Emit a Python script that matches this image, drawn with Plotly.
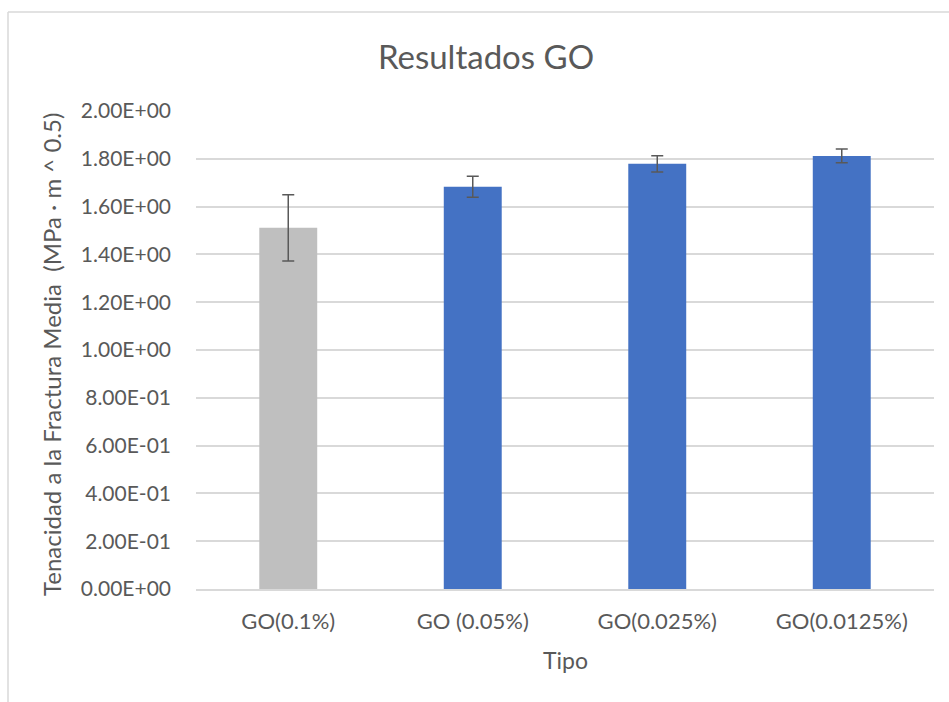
import plotly.graph_objects as go

categories = ["GO(0.1%)", "GO (0.05%)", "GO(0.025%)", "GO(0.0125%)"]
values = [1.511, 1.683, 1.779, 1.812]
errors = [0.139, 0.044, 0.034, 0.029]
bar_colors = ["#BFBFBF", "#4472C4", "#4472C4", "#4472C4"]
tick_vals = [0.0, 0.2, 0.4, 0.6, 0.8, 1.0, 1.2, 1.4, 1.6, 1.8, 2.0]
tick_text = ["0.00E+00", "2.00E-01", "4.00E-01", "6.00E-01", "8.00E-01",
             "1.00E+00", "1.20E+00", "1.40E+00", "1.60E+00", "1.80E+00", "2.00E+00"]

W, H = 949, 702
L, R, T, B = 196, 15, 111, 113
pw, ph = W - L - R, H - T - B

def px_x(p):
    return (p - L) / pw

def px_y(p):
    return (H - B - p) / ph

FONT = "Lato, Open Sans, sans-serif"
GREY = "#595959"

fig = go.Figure()
fig.add_trace(go.Bar(
    x=categories, y=values,
    marker=dict(color=bar_colors, line=dict(width=0)),
    error_y=dict(type="data", array=errors, visible=True, color=GREY,
                 thickness=1.5, width=6),
    width=0.314,
))

fig.update_layout(
    width=W, height=H,
    margin=dict(l=L, r=R, t=T, b=B, autoexpand=False),
    paper_bgcolor="white", plot_bgcolor="white",
    showlegend=False,
    font=dict(family=FONT, color=GREY),
    title=dict(text="Resultados GO", x=486 / W, xref="container", xanchor="center",
               y=1 - 57 / H, yref="container", yanchor="middle",
               font=dict(size=33, color=GREY, family=FONT)),
    xaxis=dict(showgrid=False, showline=True, linecolor="#D9D9D9", linewidth=1.5,
               ticks="", tickfont=dict(size=22, color=GREY), ticklabelstandoff=12),
    yaxis=dict(range=[0, 2], tickvals=tick_vals, ticktext=tick_text,
               showgrid=True, gridcolor="#D9D9D9", gridwidth=1.5,
               zeroline=False, showline=False, ticks="",
               tickfont=dict(size=21, color=GREY), ticklabelstandoff=24),
    shapes=[
        dict(type="line", xref="paper", yref="paper", x0=px_x(8), x1=px_x(8),
             y0=px_y(12), y1=px_y(H + 5), line=dict(color="#D9D9D9", width=1.5)),
        dict(type="line", xref="paper", yref="paper", x0=px_x(8), x1=px_x(W + 5),
             y0=px_y(12), y1=px_y(12), line=dict(color="#D9D9D9", width=1.5)),
    ],
    annotations=[
        dict(text="Tenacidad a la Fractura Media  (MPa · m ^ 0.5)", textangle=-90,
             xref="paper", yref="paper", x=px_x(51), y=px_y(355),
             xanchor="center", yanchor="middle", showarrow=False,
             font=dict(size=24, color=GREY, family=FONT)),
        dict(text="Tipo", xref="paper", yref="paper", x=px_x(565), y=px_y(660),
             xanchor="center", yanchor="middle", showarrow=False,
             font=dict(size=23, color=GREY, family=FONT)),
    ],
)

fig.write_html("out.html", config={"displayModeBar": False},
               post_script="document.body.style.margin='0px';")
